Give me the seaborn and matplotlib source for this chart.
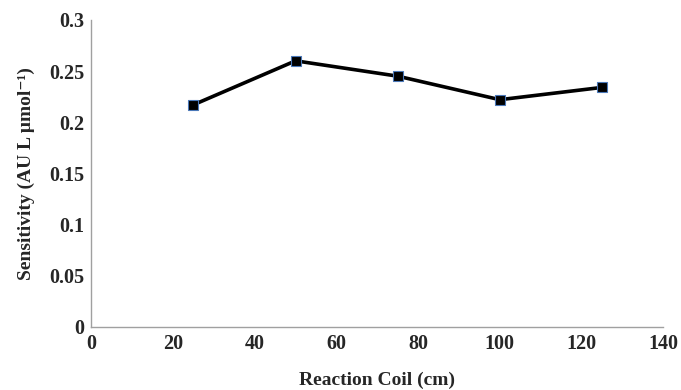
import matplotlib
matplotlib.use("Agg")
import matplotlib.pyplot as plt
import seaborn as sb
import pandas as pd

# Reaction coil length (cm) vs sensitivity
coil_length = [25, 50, 75, 100, 125]
sensitivity = [0.217, 0.260, 0.245, 0.222, 0.234]

x_ticks = [0, 20, 40, 60, 80, 100, 120, 140]
y_ticks = [0, 0.05, 0.1, 0.15, 0.2, 0.25, 0.3]
y_tick_labels = ["0", "0.05", "0.1", "0.15", "0.2", "0.25", "0.3"]

sb.set_style("white")
plt.rcParams['font.family'] = ['Liberation Serif', 'DejaVu Serif']
plt.rcParams['font.weight'] = 'bold'

df = pd.DataFrame({'coil': coil_length, 'sens': sensitivity})

fig = plt.figure(figsize=(6.81, 3.90), dpi=100)
ax = fig.add_axes([0.134, 0.162, 0.840, 0.787])

sb.lineplot(data=df, x='coil', y='sens', ax=ax, color='black', linewidth=2.6,
            marker='s', markersize=7, markerfacecolor='black',
            markeredgecolor='#4a78b8', markeredgewidth=0.8)

ax.set_xlim(0, 140)
ax.set_ylim(0, 0.3)
ax.set_xticks(x_ticks)
ax.set_yticks(y_ticks)
ax.set_yticklabels(y_tick_labels)
ax.tick_params(axis='both', length=0, labelsize=14.5, pad=5)
for lbl in ax.get_xticklabels() + ax.get_yticklabels():
    lbl.set_fontweight('bold')

sb.despine(ax=ax)
for side in ['left', 'bottom']:
    ax.spines[side].set_color('#a0a0a0')
    ax.spines[side].set_linewidth(1.0)

ax.set_xlabel('Reaction Coil (cm)', fontsize=14, fontweight='bold', labelpad=13)
ax.set_ylabel('Sensitivity (AU L µmol\u207b\u00b9)', fontsize=14, fontweight='bold', labelpad=10)

fig.savefig('out.png', dpi=100)
